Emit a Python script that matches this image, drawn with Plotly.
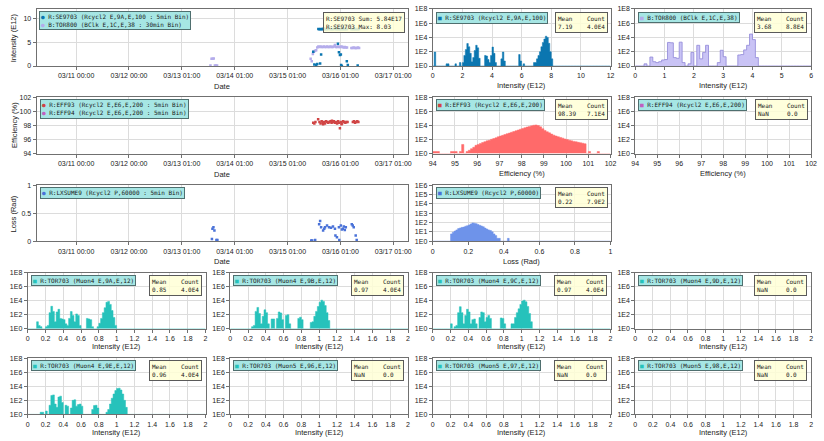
import plotly.graph_objects as go

W, H = 824, 441

# ---------------- data ----------------
date_tickvals = ["2021-03-11 00:00", "2021-03-12 00:00", "2021-03-13 00:00", "2021-03-14 00:00",
                 "2021-03-15 00:00", "2021-03-16 00:00", "2021-03-17 00:00"]
date_ticktext = ["03/11 00:00", "03/12 00:00", "03/13 01:00", "03/14 01:00",
                 "03/15 01:00", "03/16 01:00", "03/17 01:00"]
date_range = ["2021-03-10 06:03", "2021-03-17 06:43"]

# R:SE9703 intensity (E12), 5 min bins
se9703_t = ["2021-03-15 11:40", "2021-03-15 12:10", "2021-03-15 13:00", "2021-03-15 13:30", "2021-03-15 14:48",
            "2021-03-15 15:15", "2021-03-15 22:53", "2021-03-15 23:20", "2021-03-15 23:47", "2021-03-16 00:13",
            "2021-03-16 00:20", "2021-03-16 00:40", "2021-03-16 02:55", "2021-03-16 03:22", "2021-03-16 07:51",
            "2021-03-15 14:00", "2021-03-15 14:30", "2021-03-15 15:00", "2021-03-15 15:30", "2021-03-15 16:00",
            "2021-03-15 16:30", "2021-03-15 17:00", "2021-03-15 17:30", "2021-03-15 18:00", "2021-03-15 18:30",
            "2021-03-15 19:00", "2021-03-15 19:30", "2021-03-15 20:00", "2021-03-15 20:30", "2021-03-15 21:00",
            "2021-03-15 21:30", "2021-03-15 22:00", "2021-03-15 22:30", "2021-03-15 23:00", "2021-03-15 23:30",
            "2021-03-16 00:00", "2021-03-16 00:30", "2021-03-16 01:00", "2021-03-16 01:30", "2021-03-16 02:00",
            "2021-03-16 02:30", "2021-03-16 03:00", "2021-03-16 05:00", "2021-03-16 05:30", "2021-03-16 06:00",
            "2021-03-16 06:30", "2021-03-16 07:00", "2021-03-16 07:30", "2021-03-16 08:00", "2021-03-16 08:30"]
se9703_v = [3.0, 0.3, 0.2, 0.4, 0.5,
            2.4, 4.7, 2.9, 2.3, 2.4,
            0.2, 0.0, 1.0, 0.2, 0.1,
            7.8, 7.7, 7.8, 7.7, 7.8,
            7.9, 7.7, 7.8, 7.7, 7.8,
            7.9, 7.7, 7.8, 7.7, 7.8,
            8.03, 7.7, 7.8, 7.7, 7.8,
            7.7, 7.8, 7.7, 7.8, 7.7,
            7.8, 7.7, 7.7, 7.8, 7.7,
            7.8, 7.7, 7.8, 7.7, 7.8]

# B:TOR800 intensity (E12), 30 min bins
tor800_t = ["2021-03-13 13:00", "2021-03-13 13:30", "2021-03-13 14:00", "2021-03-13 14:30", "2021-03-13 15:00",
            "2021-03-13 15:30", "2021-03-13 16:00", "2021-03-15 10:30", "2021-03-15 11:00", "2021-03-15 11:30",
            "2021-03-15 12:00", "2021-03-15 12:30", "2021-03-15 13:00", "2021-03-15 13:30", "2021-03-15 14:00",
            "2021-03-15 14:30", "2021-03-15 15:00", "2021-03-15 15:30", "2021-03-15 16:00", "2021-03-15 16:30",
            "2021-03-15 17:00", "2021-03-15 17:30", "2021-03-15 18:00", "2021-03-15 18:30", "2021-03-15 19:00",
            "2021-03-15 19:30", "2021-03-15 20:00", "2021-03-15 20:30", "2021-03-15 21:00", "2021-03-15 21:30",
            "2021-03-15 22:00", "2021-03-15 22:30", "2021-03-15 23:00", "2021-03-15 23:30", "2021-03-16 00:00",
            "2021-03-16 00:30", "2021-03-16 01:00", "2021-03-16 01:30", "2021-03-16 02:00", "2021-03-16 02:30",
            "2021-03-16 03:00", "2021-03-16 05:00", "2021-03-16 05:30", "2021-03-16 06:00", "2021-03-16 06:30",
            "2021-03-16 07:00", "2021-03-16 07:30", "2021-03-16 08:00", "2021-03-16 08:30"]
tor800_v = [0.1, 1.5, 1.5, 1.6, 0.1,
            0.1, 0.1, 1.5, 1.0, 2.5,
            3.0, 3.2, 3.3, 3.9, 4.1,
            4.0, 4.1, 4.0, 4.0, 4.1,
            4.0, 4.0, 4.1, 4.0, 4.0,
            4.1, 4.0, 4.0, 4.1, 4.4,
            4.0, 4.0, 4.1, 4.0, 4.0,
            4.1, 4.0, 3.9, 4.0, 3.9,
            3.9, 3.8, 3.8, 3.9, 3.8,
            3.8, 3.8, 3.9, 3.8]

# R:EFF93 efficiency (%)
eff93_t = ["2021-03-15 11:40", "2021-03-15 12:10", "2021-03-15 12:40", "2021-03-15 13:54", "2021-03-15 14:30",
           "2021-03-15 15:00", "2021-03-15 15:30", "2021-03-15 16:00", "2021-03-15 16:30", "2021-03-15 17:00",
           "2021-03-15 17:30", "2021-03-15 18:00", "2021-03-15 18:30", "2021-03-15 19:00", "2021-03-15 19:30",
           "2021-03-15 20:00", "2021-03-15 20:30", "2021-03-15 21:00", "2021-03-15 21:30", "2021-03-15 22:00",
           "2021-03-15 22:30", "2021-03-15 23:00", "2021-03-15 23:20", "2021-03-15 23:47", "2021-03-16 00:15",
           "2021-03-16 00:45", "2021-03-16 01:15", "2021-03-16 01:45", "2021-03-16 02:15", "2021-03-16 02:45",
           "2021-03-16 03:15", "2021-03-16 05:40", "2021-03-16 06:10", "2021-03-16 06:40", "2021-03-16 07:10",
           "2021-03-16 07:40", "2021-03-16 08:10", "2021-03-15 16:10", "2021-03-15 20:10", "2021-03-16 00:30"]
eff93_v = [98.4, 98.3, 98.5, 98.9, 98.5,
           98.3, 98.6, 98.4, 98.5, 98.3,
           98.6, 98.5, 98.4, 98.5, 98.6,
           98.4, 98.5, 98.6, 98.4, 98.5,
           98.3, 98.6, 98.4, 97.6, 98.5,
           98.3, 98.6, 98.5, 98.4, 98.5,
           98.5, 98.5, 98.6, 98.4, 98.5,
           98.6, 98.5, 98.2, 98.7, 98.2]

# R:LXSUME9 loss (Rad)
lx_t = ["2021-03-13 13:54", "2021-03-13 14:21", "2021-03-13 14:48", "2021-03-13 13:40", "2021-03-13 15:42",
        "2021-03-13 16:09", "2021-03-15 10:46", "2021-03-15 12:33", "2021-03-15 14:21", "2021-03-15 14:48",
        "2021-03-15 15:15", "2021-03-15 16:09", "2021-03-15 17:02", "2021-03-15 17:56", "2021-03-15 18:50",
        "2021-03-15 19:44", "2021-03-15 20:38", "2021-03-15 21:32", "2021-03-15 21:45", "2021-03-15 22:26",
        "2021-03-15 23:20", "2021-03-16 00:13", "2021-03-16 01:07", "2021-03-16 01:34", "2021-03-15 23:30",
        "2021-03-16 02:28", "2021-03-16 05:10", "2021-03-16 05:37", "2021-03-16 06:03", "2021-03-16 06:57",
        "2021-03-16 07:24", "2021-03-15 11:13", "2021-03-15 16:40", "2021-03-16 00:40", "2021-03-16 02:00"]
lx_v = [0.22, 0.25, 0.19, 0.04, 0.02,
        0.02, 0.01, 0.02, 0.30, 0.36,
        0.25, 0.19, 0.25, 0.28, 0.25,
        0.24, 0.26, 0.22, 0.10, 0.07,
        0.25, 0.28, 0.22, 0.26, 0.02,
        0.25, 0.30, 0.28, 0.25, 0.10,
        0.02, 0.01, 0.22, 0.21, 0.20]

# Histogram: R:SE9703 (bin 0.1 E12)
h_se_x = [0.15, 0.95, 1.05, 1.55, 1.85, 2.05, 2.15, 2.25, 2.35, 2.45, 2.55, 2.65, 2.75, 2.85, 2.95, 3.05,
          3.15, 3.55, 3.65, 3.75, 3.85, 3.95, 4.05, 4.15, 4.25, 4.65, 4.75, 4.85, 5.85, 5.95, 6.15, 6.85,
          6.95, 7.05, 7.15, 7.25, 7.35, 7.45, 7.55, 7.65, 7.75, 7.85, 7.95, 8.05]
h_se_n = [90, 2, 2, 2, 3, 3, 30, 200, 1400, 500, 60, 4, 15, 150, 800, 350,
          12, 30, 25, 8, 3, 30, 450, 60, 3, 10, 90, 5, 40, 5, 2, 3,
          3, 10, 30, 100, 500, 2000, 6000, 15000, 10000, 1500, 100, 10]

# Histogram: B:TOR800 (bin 0.1 E12)
h_tor800_x = [0.35, 0.55, 0.65, 0.75, 0.85, 0.95, 1.05, 1.15, 1.25, 1.35, 1.45, 1.55, 1.65, 1.85, 1.95,
              2.15, 2.25, 2.35, 2.45, 2.85, 2.95, 3.05, 3.55, 3.65, 3.75, 3.85, 3.95, 4.05, 4.15]
h_tor800_n = [2, 18, 4, 3, 4, 7, 8, 2000, 1800, 15, 12, 2200, 3, 2, 80,
              800, 10, 80, 800, 3, 160, 20, 35, 40, 180, 800, 30000, 5000, 15]

# Histogram: R:EFF93 (bin 0.1 %, 94.0 .. 102.0)
h_eff_n = [2, 2, 2, 0, 0, 0, 0, 0, 2, 2,
           2, 0, 2, 20, 0, 2, 3, 5, 8, 15,
           20, 28, 38, 50, 65, 80, 110, 140, 180, 250,
           320, 400, 520, 680, 850, 1100, 1400, 1800, 2300, 3000,
           3800, 4800, 6000, 7500, 9000, 11000, 12000, 10000, 6500, 3500,
           2000, 1300, 900, 600, 420, 320, 250, 200, 160, 120,
           100, 80, 65, 55, 48, 40, 35, 30, 25, 0,
           2, 0, 0, 0, 2, 0, 0, 0, 0, 0]

# Histogram: R:LXSUME9 (bin 0.01 Rad, 0.10 .. 0.43)
h_lx_n = [6, 9, 12, 16, 22, 26, 30, 32, 40, 45,
          55, 70, 90, 85, 75, 60, 50, 42, 35, 25,
          20, 16, 14, 10, 6, 4, 2, 2, 0, 0,
          0, 0, 2]

# Histograms: R:TOR703 (bin 0.02 E12)
h_9a_x = [0.11, 0.13, 0.15, 0.21, 0.23, 0.25, 0.27, 0.29, 0.31, 0.33, 0.35, 0.37, 0.39, 0.41, 0.43, 0.45,
          0.47, 0.49, 0.51, 0.53, 0.55, 0.57, 0.59, 0.67, 0.69, 0.71, 0.73, 0.79, 0.81, 0.83, 0.85, 0.87,
          0.89, 0.91, 0.93, 0.95, 0.97, 0.99]
h_9a_n = [10, 3, 2, 2, 3, 200, 1600, 300, 10, 250, 600, 30, 25, 20, 5, 3,
          30, 280, 80, 10, 130, 80, 3, 30, 25, 20, 2, 2, 6, 30, 200, 1000,
          6000, 8000, 3000, 400, 40, 3]
h_9b_x = [0.25, 0.27, 0.29, 0.31, 0.33, 0.35, 0.37, 0.39, 0.41, 0.43, 0.47, 0.49, 0.53, 0.55, 0.57, 0.59,
          0.63, 0.65, 0.67, 0.77, 0.79, 0.81, 0.91, 0.93, 0.95, 0.97, 0.99, 1.01, 1.03, 1.05, 1.07, 1.09, 1.11]
h_9b_n = [2, 3, 300, 1100, 150, 5, 60, 500, 200, 5, 25, 25, 30, 250, 180, 20,
          80, 100, 5, 30, 45, 20, 8, 10, 60, 300, 1500, 6000, 12000, 8000, 2000, 200, 15]
h_9c_x = [0.21, 0.25, 0.27, 0.29, 0.31, 0.33, 0.35, 0.37, 0.39, 0.41, 0.43, 0.45, 0.47, 0.49, 0.53, 0.55,
          0.57, 0.59, 0.61, 0.63, 0.65, 0.77, 0.79, 0.81, 0.89, 0.91, 0.93, 0.95, 0.97, 0.99, 1.01, 1.03,
          1.05, 1.07, 1.09, 1.11]
h_9c_n = [5, 2, 3, 200, 1400, 200, 5, 80, 600, 250, 5, 20, 25, 5, 40, 250,
          200, 10, 40, 80, 30, 35, 30, 5, 5, 5, 40, 200, 700, 3000, 9000, 12000,
          7000, 1500, 150, 10]
h_9e_x = [0.15, 0.17, 0.21, 0.25, 0.27, 0.29, 0.31, 0.33, 0.35, 0.37, 0.39, 0.43, 0.45, 0.49, 0.51, 0.53,
          0.55, 0.57, 0.59, 0.61, 0.73, 0.75, 0.77, 0.79, 0.89, 0.91, 0.93, 0.95, 0.97, 0.99, 1.01, 1.03,
          1.05, 1.07, 1.09, 1.11]
h_9e_n = [2, 2, 3, 20, 500, 600, 30, 10, 300, 400, 50, 20, 15, 8, 100, 120,
          15, 25, 30, 15, 5, 18, 20, 8, 2, 5, 30, 200, 800, 2500, 5000, 5500,
          3000, 800, 100, 10]

# ---------------- styling ----------------
C_SE = "#0b76b0"
C_TOR800 = "#b4aceb"
C_TOR800_FILL = "#c9c3f5"
C_TOR800_EDGE = "#8f86d8"
C_EFF93 = "#d04444"
C_EFF93_FILL = "#ff6a6a"
C_EFF94 = "#c060c0"
C_LX = "#4a72d8"
C_LX_FILL = "#6e93ea"
C_TOR703 = "#26c2bb"
LEG_BG = "#a6e6e4"
LEG_BORDER = "#4f6f6f"
STAT_BG = "rgba(255,255,214,0.85)"
STAT_BORDER = "#5a5a5a"
FRAME = "#707070"
GRID = "#dcdcdc"
SANS = "Liberation Sans, Arial, sans-serif"
MONO = "DejaVu Sans Mono, monospace"
tick_font = dict(family=SANS, size=7, color="#222222")

fig = go.Figure()
layout_axes = {}
annotations = []
counter = [0]


def add_axes(x0, x1, ytop, ybot, xcfg, ycfg):
    counter[0] += 1
    i = counter[0]
    xa = "xaxis" if i == 1 else f"xaxis{i}"
    ya = "yaxis" if i == 1 else f"yaxis{i}"
    xr = "x" if i == 1 else f"x{i}"
    yr = "y" if i == 1 else f"y{i}"
    base = dict(showline=True, linecolor=FRAME, linewidth=1, mirror=True, ticks="outside", ticklen=3,
                tickcolor=FRAME, showgrid=True, gridcolor=GRID, gridwidth=1, zeroline=False,
                tickfont=tick_font, fixedrange=True)
    layout_axes[xa] = {**base, **xcfg, "domain": [x0 / W, x1 / W], "anchor": yr}
    layout_axes[ya] = {**base, **ycfg, "domain": [1 - ybot / H, 1 - ytop / H], "anchor": xr}
    # placeholder trace so that the axes are drawn even without data
    fig.add_trace(go.Scatter(x=[None], y=[None], mode="markers", xaxis=xr, yaxis=yr, hoverinfo="skip"))
    return xr, yr


def text_at(px, py, text, size=7.5, angle=0, xanchor="center", yanchor="middle"):
    annotations.append(dict(xref="paper", yref="paper", x=px / W, y=1 - py / H, text=text, showarrow=False,
                            textangle=angle, xanchor=xanchor, yanchor=yanchor,
                            font=dict(family=SANS, size=size, color="#222222")))


def legend_box(px, py, entries):
    lines = [f'<span style="color:{c}">{sym}</span>\u00a0{t}' for sym, c, t in entries]
    annotations.append(dict(xref="paper", yref="paper", x=px / W, y=1 - py / H, text="<br>".join(lines),
                            showarrow=False, xanchor="left", yanchor="top", align="left",
                            bgcolor=LEG_BG, bordercolor=LEG_BORDER, borderwidth=1, borderpad=1,
                            font=dict(family=MONO, size=6, color="#1a1a1a")))


def stat_box(px, py, lines, xanchor="right"):
    annotations.append(dict(xref="paper", yref="paper", x=px / W, y=1 - py / H, text="<br>".join(lines),
                            showarrow=False, xanchor=xanchor, yanchor="top", align="left",
                            bgcolor=STAT_BG, bordercolor=STAT_BORDER, borderwidth=1, borderpad=2,
                            font=dict(family=MONO, size=6, color="#1a1a1a")))


def mean_count(m, c):
    return ["Mean\u00a0\u00a0\u00a0\u00a0Count", f"{m}" + "\u00a0" * (8 - len(m)) + f"{c}"]


def date_x():
    return dict(type="date", range=date_range, tickmode="array", tickvals=date_tickvals, ticktext=date_ticktext)


def log_y(top):
    step = 2 if top == 8 else 1
    vals = [10 ** k for k in range(0, top + 1, step)]
    return dict(type="log", range=[0, top], tickmode="array", tickvals=vals,
                ticktext=[f"1E{k}" for k in range(0, top + 1, step)])


def lin_x(lo, hi, step):
    return dict(range=[lo, hi], tick0=lo, dtick=step)


def step_hist(centers, counts, width, lo, hi, xr, yr, fill, edge=None, lw=0.5):
    """Filled step outline of a histogram (empty bins sit on the 1E0 floor)."""
    lookup = {round(c, 3): n for c, n in zip(centers, counts)}
    nb = int(round((hi - lo) / width))
    edges = [lo + width * i for i in range(nb + 1)]
    vals = [max(lookup.get(round(lo + width * (i + 0.5), 3), 1), 1) for i in range(nb)]
    xs = [edges[0]] + edges[:-1] + [edges[-1]]
    ys = [1] + vals + [1]
    return go.Scatter(x=xs, y=ys, mode="lines", line_shape="hv", fill="toself", fillcolor=fill,
                      line=dict(color=edge or fill, width=lw), xaxis=xr, yaxis=yr, hoverinfo="skip")


TL = (33, 409)
C3 = (434, 614)
C4 = (639, 817)
R4C1 = (24, 204)
R4C2 = (229, 409)
ROWS = [(5, 63), (95, 152), (184, 241), (273, 330), (360, 417)]

# ---------- Row 1 ----------
xr, yr = add_axes(*TL, *ROWS[0], date_x(), dict(range=[0, 12], tickvals=[0, 5, 10]))
fig.add_trace(go.Scatter(x=tor800_t, y=tor800_v, mode="markers", xaxis=xr, yaxis=yr,
                         marker=dict(color=C_TOR800, size=2.5, symbol="square")))
fig.add_trace(go.Scatter(x=se9703_t, y=se9703_v, mode="markers", xaxis=xr, yaxis=yr,
                         marker=dict(color=C_SE, size=2.5, symbol="square")))
legend_box(35, 7, [("●", C_SE, "R:SE9703 (Rcycl2 E,9A,E,100 : 5min Bin)"),
                   ("●", C_TOR800, "B:TOR800 (BClk E,1C,E,38 : 30min Bin)")])
stat_box(406, 8, ["R:SE9703 Sum: 5.84E17", "R:SE9703 Max: 8.03"])
text_at(221, 84, "Date")
text_at(10, 34, "Intensity (E12)", angle=-90)

xr, yr = add_axes(*C3, *ROWS[0], lin_x(0, 12, 2), log_y(8))
fig.add_trace(step_hist(h_se_x, h_se_n, 0.1, 0, 12, xr, yr, C_SE))
legend_box(437, 8, [("■", C_SE, "R:SE9703 (Rcycl2 E,9A,E,100)")])
stat_box(611, 8, mean_count("7.19", "4.0E4"))
text_at(524, 83, "Intensity (E12)")

xr, yr = add_axes(*C4, *ROWS[0], lin_x(0, 6, 1), log_y(8))
fig.add_trace(step_hist(h_tor800_x, h_tor800_n, 0.1, 0, 6, xr, yr, C_TOR800_FILL, C_TOR800_EDGE, 0.8))
legend_box(642, 8, [("■", C_TOR800, "B:TOR800 (BClk E,1C,E,38)")])
stat_box(813, 8, mean_count("3.68", "8.8E4"))
text_at(728, 83, "Intensity (E12)")

# ---------- Row 2 ----------
xr, yr = add_axes(*TL, *ROWS[1], date_x(), dict(range=[94, 102], tickvals=[94, 96, 98, 100, 102]))
fig.add_trace(go.Scatter(x=eff93_t, y=eff93_v, mode="markers", xaxis=xr, yaxis=yr,
                         marker=dict(color=C_EFF93, size=2.5, symbol="square")))
legend_box(36, 97, [("●", C_EFF93, "R:EFF93 (Rcycl2 E,E6,E,200 : 5min Bin)"),
                    ("●", C_EFF94, "R:EFF94 (Rcycl2 E,E6,E,200 : 5min Bin)")])
text_at(221, 173, "Date")
text_at(10, 123, "Efficiency (%)", angle=-90)

eff_x = [round(94.05 + 0.1 * i, 2) for i in range(len(h_eff_n))]
xr, yr = add_axes(*C3, *ROWS[1], lin_x(94, 102, 1), log_y(8))
fig.add_trace(step_hist(eff_x, h_eff_n, 0.1, 94, 102, xr, yr, C_EFF93_FILL))
legend_box(437, 97, [("■", C_EFF93, "R:EFF93 (Rcycl2 E,E6,E,200)")])
stat_box(611, 97, mean_count("98.39", "7.1E4"))
text_at(524, 172, "Efficiency (%)")

xr, yr = add_axes(*C4, *ROWS[1], lin_x(94, 102, 1), log_y(8))
legend_box(642, 97, [("■", C_EFF94, "R:EFF94 (Rcycl2 E,E6,E,200)")])
stat_box(814, 97, mean_count("NaN", "0.0"))
text_at(728, 172, "Efficiency (%)")

# ---------- Row 3 ----------
xr, yr = add_axes(*TL, *ROWS[2], date_x(), dict(range=[0, 1], tickvals=[0, 0.5, 1]))
fig.add_trace(go.Scatter(x=lx_t, y=lx_v, mode="markers", xaxis=xr, yaxis=yr,
                         marker=dict(color=C_LX, size=2.5, symbol="square")))
legend_box(36, 186, [("●", C_LX, "R:LXSUME9 (Rcycl2 P,60000 : 5min Bin)")])
text_at(221, 262, "Date")
text_at(10, 213, "Loss (Rad)", angle=-90)

lx_x = [round(0.105 + 0.01 * i, 3) for i in range(len(h_lx_n))]
xr, yr = add_axes(*C3, *ROWS[2], lin_x(0, 1, 0.2), log_y(6))
fig.add_trace(step_hist(lx_x, h_lx_n, 0.01, 0, 1, xr, yr, C_LX_FILL))
legend_box(437, 186, [("■", C_LX, "R:LXSUME9 (Rcycl2 P,60000)")])
stat_box(611, 186, mean_count("0.22", "7.9E2"))
text_at(524, 262, "Loss (Rad)")

# ---------- Rows 4 & 5: TOR703 ----------
tor_panels = [
    (R4C1, ROWS[3], "Muon4 E,9A,E,12", h_9a_x, h_9a_n, ("0.85", "4.0E4")),
    (R4C2, ROWS[3], "Muon4 E,9B,E,12", h_9b_x, h_9b_n, ("0.97", "4.0E4")),
    (C3, ROWS[3], "Muon4 E,9C,E,12", h_9c_x, h_9c_n, ("0.97", "4.0E4")),
    (C4, ROWS[3], "Muon4 E,9D,E,12", [], [], ("NaN", "0.0")),
    (R4C1, ROWS[4], "Muon4 E,9E,E,12", h_9e_x, h_9e_n, ("0.96", "4.0E4")),
    (R4C2, ROWS[4], "Muon5 E,96,E,12", [], [], ("NaN", "0.0")),
    (C3, ROWS[4], "Muon5 E,97,E,12", [], [], ("NaN", "0.0")),
    (C4, ROWS[4], "Muon5 E,98,E,12", [], [], ("NaN", "0.0")),
]
for (cx, ry, label, hx, hn, (m, c)) in tor_panels:
    xr, yr = add_axes(*cx, *ry, lin_x(0, 2, 0.2), log_y(8))
    if hx:
        fig.add_trace(step_hist(hx, hn, 0.02, 0, 2, xr, yr, C_TOR703))
    legend_box(cx[0] + 3, ry[0] + 2, [("■", C_TOR703, f"R:TOR703 ({label})")])
    stat_box(cx[1] - 4, ry[0] + 2, mean_count(m, c))
    text_at((cx[0] + cx[1]) / 2, ry[1] + 18, "Intensity (E12)")

fig.update_layout(width=W, height=H, margin=dict(l=0, r=0, t=0, b=0), showlegend=False,
                  paper_bgcolor="white", plot_bgcolor="white",
                  annotations=annotations, **layout_axes)

fig.write_html("out.html", config={"displayModeBar": False},
               post_script="document.body.style.margin='0';")
